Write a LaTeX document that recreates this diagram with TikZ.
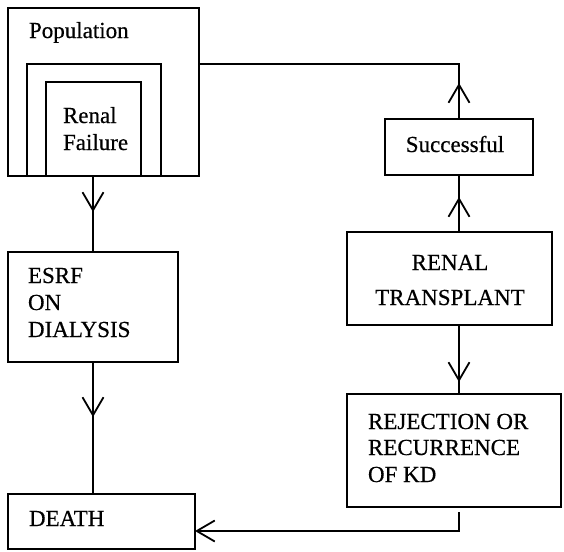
\documentclass[tikz,border=0pt]{standalone}
\usepackage{fontspec}
\setmainfont{Liberation Serif}[FakeBold=0.5]
\usetikzlibrary{arrows.meta,decorations.markings}
\tikzset{
  box/.style={draw, line width=1.8pt, inner sep=0pt, outer sep=0pt},
  txt/.style={inner sep=0pt, outer sep=0pt, font=\fontsize{23}{27}\selectfont},
  conn/.style={line width=1.8pt},
  barb/.tip={Straight Barb[length=18pt,width=21pt,line width=1.8pt]},
  midarrow/.style={postaction={decorate}, decoration={markings, mark=at position #1 with {\arrow{barb}}}}
}
\begin{document}
\begin{tikzpicture}[x=1pt,y=-1pt]
\useasboundingbox (0,0) rectangle (564,551);
\fill[white] (0,0) rectangle (564,551);
% Population nested boxes
\node[box, minimum width=191pt, minimum height=168pt] (pop) at (103.5,92) {};
\node[box, minimum width=134pt, minimum height=112pt] (pop2) at (94,120) {};
\node[box, minimum width=95pt, minimum height=94pt] (rf) at (93.5,129) {};
\node[txt, anchor=base west] (tpop) at (29,38) {Population};
\node[txt, anchor=base west] (trf1) at (63,123) {Renal};
\node[txt, anchor=base west] (trf2) at (63,150) {Failure};
% left column
\node[box, minimum width=170pt, minimum height=110pt] (esrf) at (93,307) {};
\node[txt, anchor=base west] (te1) at (28,283) {ESRF};
\node[txt, anchor=base west] (te2) at (28,310) {ON};
\node[txt, anchor=base west] (te3) at (28,337) {DIALYSIS};
\node[box, minimum width=187pt, minimum height=55pt] (death) at (101.5,521.5) {};
\node[txt, anchor=base west] (td) at (29,526) {DEATH};
% right column
\node[box, minimum width=148pt, minimum height=56pt] (succ) at (459,147) {};
\node[txt, anchor=base] (ts) at (455,152) {Successful};
\node[box, minimum width=205pt, minimum height=93pt] (trans) at (449.5,278.5) {};
\node[txt, anchor=base] (tt1) at (450,270) {RENAL};
\node[txt, anchor=base] (tt2) at (450,305) {TRANSPLANT};
\node[box, minimum width=214pt, minimum height=113pt] (rej) at (454,450.5) {};
\node[txt, anchor=base west] (tr1) at (368,429) {REJECTION OR};
\node[txt, anchor=base west] (tr2) at (368,455) {RECURRENCE};
\node[txt, anchor=base west] (tr3) at (368,482) {OF KD};
% coordinates
\coordinate (ptop) at (199,64);
\coordinate (dend) at (195,531);
% connectors
\draw[conn, midarrow=36pt] (pop.south -| esrf.north) -- (esrf.north);
\draw[conn, midarrow=55pt] (esrf.south) -- (esrf.south |- death.north);
\draw[conn, midarrow=35pt] (succ.south |- trans.north) -- (succ.south);
\draw[conn, midarrow=36pt] (succ.north) -- (succ.north |- ptop) -- (ptop);
\draw[conn, midarrow=57pt] (succ.south |- trans.south) -- (succ.south |- rej.north);
\draw[conn, -barb] ([yshift=-5pt]succ.south |- rej.south) |- (dend);
\end{tikzpicture}
\end{document}
